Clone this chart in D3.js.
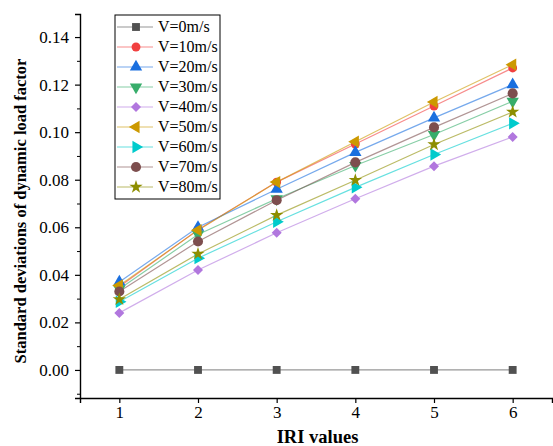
<!DOCTYPE html>
<html>
<head>
<meta charset="utf-8">
<script src="https://cdn.jsdelivr.net/npm/d3@7"></script>
<style>
  body { margin: 0; background: #fff; }
</style>
</head>
<body>
<script>
let w = 553, h = 446;
const serif = '"Liberation Serif"';

// data
const iri = [1, 2, 3, 4, 5, 6];
const v0  = [0, 0, 0, 0, 0, 0];
const v10 = [0.035, 0.059, 0.079, 0.095, 0.111, 0.127];
const v20 = [0.037, 0.060, 0.076, 0.0915, 0.106, 0.120];
const v30 = [0.034, 0.057, 0.072, 0.086, 0.099, 0.113];
const v40 = [0.024, 0.042, 0.0577, 0.072, 0.0857, 0.098];
const v50 = [0.0355, 0.0588, 0.079, 0.096, 0.1127, 0.1284];
const v60 = [0.0287, 0.047, 0.0623, 0.0768, 0.0906, 0.1037];
const v70 = [0.033, 0.054, 0.0714, 0.0873, 0.102, 0.1163];
const v80 = [0.0297, 0.0488, 0.0651, 0.0798, 0.0948, 0.1085];
const names = ["V=0m/s", "V=10m/s", "V=20m/s", "V=30m/s", "V=40m/s",
               "V=50m/s", "V=60m/s", "V=70m/s", "V=80m/s"];
const yTicks = [0, 0.02, 0.04, 0.06, 0.08, 0.10, 0.12, 0.14];

const colors = ["#515151", "#F14040", "#1A6FDF", "#37AD6B", "#B177DE",
                "#CC9900", "#00CBCC", "#7D4E4E", "#8E8E00"];
// symbol type + rotation
const shapes = [
  [d3.symbolSquare, 0], [d3.symbolCircle, 0], [d3.symbolTriangle, 0],
  [d3.symbolTriangle, 180], [d3.symbolSquare, 45], [d3.symbolTriangle, -90],
  [d3.symbolTriangle, 90], [d3.symbolCircle, 0], [d3.symbolStar, 0]
];
const sizes = [62, 62, 66, 66, 50, 66, 66, 80, 55];

const series = [v0, v10, v20, v30, v40, v50, v60, v70, v80].map((vals, i) => ({
  name: names[i], color: colors[i], shape: shapes[i], size: sizes[i],
  values: vals.map((v, j) => ({ x: iri[j], y: v }))
}));

const margin = { left: 80, right: 1, top: 14, bottom: 48 };

const svg = d3.select("body").append("svg")
  .attr("width", w).attr("height", h)
  .style("font-family", serif);

const x = d3.scaleLinear().domain([0.5, 6.5]).range([margin.left, w - margin.right]);
const y = d3.scaleLinear().domain([-0.0118, 0.1497]).range([h - margin.bottom, margin.top]);

// lines
const line = d3.line().x(d => x(d.x)).y(d => y(d.y));
series.forEach(s => {
  svg.append("path")
    .datum(s.values)
    .attr("fill", "none")
    .attr("stroke", s.color)
    .attr("stroke-opacity", 0.6)
    .attr("stroke-width", 1.2)
    .attr("d", line);
});

// markers
series.forEach(s => {
  const sym = d3.symbol().type(s.shape[0]).size(s.size);
  svg.append("g").selectAll("path")
    .data(s.values)
    .enter().append("path")
    .attr("d", sym)
    .attr("fill", s.color)
    .attr("transform", d => `translate(${x(d.x)},${y(d.y)}) rotate(${s.shape[1]})`);
});

// axes
const xAxis = svg.append("g")
  .attr("transform", `translate(0,${h - margin.bottom})`)
  .call(d3.axisBottom(x).tickValues(iri).tickFormat(d3.format("d"))
    .tickSizeOuter(0).tickSize(5).tickPadding(3));
const yAxis = svg.append("g")
  .attr("transform", `translate(${margin.left},0)`)
  .call(d3.axisLeft(y).tickValues(yTicks).tickFormat(d3.format(".2f"))
    .tickSizeOuter(0).tickSize(5).tickPadding(6));
// minor ticks
svg.append("g")
  .attr("transform", `translate(${margin.left},0)`)
  .call(d3.axisLeft(y).tickValues([-0.01, 0.01, 0.03, 0.05, 0.07, 0.09, 0.11, 0.13])
    .tickSize(3).tickFormat(""))
  .call(g => g.select(".domain").remove());

[xAxis, yAxis].forEach(g => {
  g.attr("font-family", serif).attr("font-size", 17);
  g.select(".domain").attr("stroke-width", 1.4);
  g.selectAll(".tick line").attr("stroke-width", 1.2);
  g.selectAll("text").style("font-family", serif).style("font-size", "17px").attr("fill", "#000");
});

svg.append("text")
  .attr("x", (margin.left + w) / 2 + 1).attr("y", 443)
  .attr("text-anchor", "middle")
  .style("font-family", serif)
  .attr("font-size", 18.5).attr("font-weight", "bold")
  .text("IRI values");

svg.append("text")
  .attr("transform", `translate(26,${211}) rotate(-90)`)
  .attr("text-anchor", "middle")
  .style("font-family", serif)
  .attr("font-size", 16.5).attr("font-weight", "bold")
  .text("Standard deviations of dynamic load factor");

// legend
const lg = svg.append("g").attr("transform", "translate(115,15)");
lg.append("rect")
  .attr("width", 105).attr("height", 184)
  .attr("fill", "#fff").attr("stroke", "#000").attr("stroke-width", 1);
series.forEach((s, i) => {
  const cy = 12 + i * 20;
  lg.append("line")
    .attr("x1", 2).attr("x2", 38).attr("y1", cy).attr("y2", cy)
    .attr("stroke", s.color).attr("stroke-opacity", 0.6).attr("stroke-width", 1.2);
  lg.append("path")
    .attr("d", d3.symbol().type(s.shape[0]).size(s.size)())
    .attr("fill", s.color)
    .attr("transform", `translate(21,${cy}) rotate(${s.shape[1]})`);
  lg.append("text")
    .attr("x", 43).attr("y", cy + 5)
    .style("font-family", serif)
    .attr("font-size", 16)
    .text(s.name);
});
</script>
</body>
</html>
